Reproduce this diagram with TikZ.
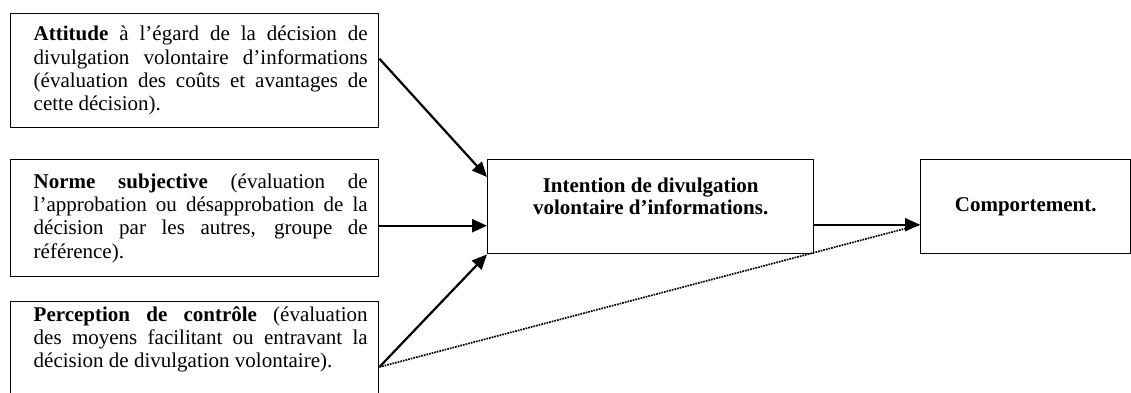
\documentclass[tikz,border=0pt]{standalone}
\usepackage{fontspec}
\setmainfont{Liberation Serif}
\usepackage{tikz}
\usetikzlibrary{arrows.meta,positioning,calc}

\tikzset{
  srcbox/.style={draw, line width=1.4pt, anchor=north west, text width=346pt, inner xsep=11pt,
    align=justify, font=\fontsize{21}{23.3}\selectfont,
    execute at begin node={\leftskip=12pt\tolerance=10000\hyphenpenalty=10000\hbadness=10000}},
  tgtbox/.style={draw, line width=1.4pt, anchor=north west, minimum height=94pt, align=center,
    font=\bfseries\fontsize{21}{22}\selectfont},
  arr/.style={line width=2.2pt, -{Triangle[length=15pt,width=13pt]}}
}

\begin{document}
\begin{tikzpicture}[x=1pt,y=1pt]
\useasboundingbox (0,0) rectangle (1131,392);

\node[srcbox, minimum height=114pt] (att) at (10,379) {\textbf{Attitude} à l’égard de la décision de\linebreak divulgation volontaire d’informations\linebreak (évaluation des coûts et avantages de\linebreak cette décision).};
\node[srcbox, minimum height=117pt] (norme) at (10,233) {\textbf{Norme subjective} (évaluation de\linebreak l’approbation ou désapprobation de la\linebreak décision par les autres, groupe de\linebreak référence).};
\node[srcbox, inner ysep=4.5pt, text depth=80pt] (perc) at (10,91) {\textbf{Perception de contrôle} (évaluation\linebreak des moyens facilitant ou entravant la\linebreak décision de divulgation volontaire).};

\node[tgtbox, minimum width=326pt, text depth=20pt] (int) at (487,233) {Intention de divulgation\\volontaire d’informations.};
\node[tgtbox, minimum width=210pt] (comp) at (920,233) {Comportement.};

\coordinate (p1) at ([yshift=-66pt]perc.north east);
\draw[densely dotted, line width=1.7pt] (p1) -- ([yshift=-18pt]comp.west);
\draw[arr] ([yshift=12pt]att.east) -- ([yshift=-18pt]int.north west);
\draw[arr] ([yshift=-7.5pt]norme.east) -- ([yshift=-19pt]int.west);
\draw[arr] (p1) -- (int.south west);
\draw[arr] ([yshift=-18pt]int.east) -- ([yshift=-18pt]comp.west);
\end{tikzpicture}
\end{document}
